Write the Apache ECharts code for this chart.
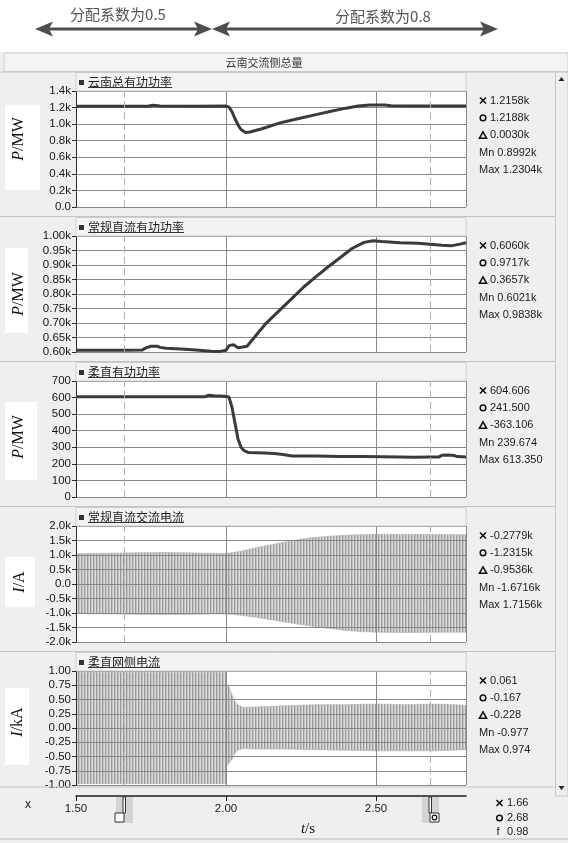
<!DOCTYPE html>
<html>
<head>
<meta charset="utf-8">
<script src="https://cdn.jsdelivr.net/npm/echarts@6/dist/echarts.min.js"></script>
<style>
  html, body { margin: 0; padding: 0; background: #efefef; }
  #chart { width: 568px; height: 843px; }
</style>
</head>
<body>
<div id="chart"></div>
<script>
// ---- time axis (s) and cursor positions ----
const T_MIN = 1.5, T_MAX = 2.8;
const cursorTimes = [1.66, 2.68];
const cursorReadout = ['1.66', '2.68', '0.98'];

// ---- 云南总有功功率 (MW) ----
const totalPowerT  = [1.50, 1.66, 1.74, 1.755, 1.765, 1.78, 1.90, 2.00, 2.01, 2.02, 2.03, 2.04, 2.05, 2.065, 2.08, 2.12, 2.18, 2.21, 2.25, 2.30, 2.35, 2.40, 2.44, 2.48, 2.53, 2.55, 2.60, 2.68, 2.80];
const totalPowerMW = [1215.8, 1215.8, 1216, 1228, 1226, 1218, 1217, 1218, 1205, 1150, 1065, 990, 935, 899.2, 905, 945, 1015, 1040, 1075, 1115, 1155, 1193, 1218, 1230.4, 1230.4, 1221, 1219, 1218.8, 1219];
const totalReadout = ['1.2158k', '1.2188k', '0.0030k', '0.8992k', '1.2304k'];

// ---- 常规直流有功功率 (MW) ----
const lccPowerT  = [1.50, 1.66, 1.72, 1.735, 1.75, 1.77, 1.78, 1.80, 1.85, 1.90, 1.95, 1.98, 2.00, 2.01, 2.025, 2.04, 2.05, 2.06, 2.07, 2.09, 2.13, 2.18, 2.22, 2.26, 2.30, 2.34, 2.38, 2.42, 2.46, 2.49, 2.52, 2.58, 2.64, 2.68, 2.72, 2.75, 2.78, 2.80];
const lccPowerMW = [606.0, 606.0, 606.5, 615, 620, 620, 616, 613, 610, 607, 603, 602.1, 606, 622, 625, 615, 616, 618, 620, 645, 695, 745, 785, 825, 860, 893, 925, 957, 978, 983.8, 981, 977, 975, 971.7, 968, 966, 972, 977];
const lccReadout = ['0.6060k', '0.9717k', '0.3657k', '0.6021k', '0.9838k'];

// ---- 柔直有功功率 (MW) ----
const vscPowerT  = [1.50, 1.66, 1.93, 1.94, 1.96, 1.98, 2.00, 2.01, 2.02, 2.03, 2.04, 2.05, 2.06, 2.075, 2.10, 2.13, 2.16, 2.19, 2.22, 2.30, 2.38, 2.45, 2.52, 2.58, 2.63, 2.68, 2.71, 2.72, 2.74, 2.76, 2.77, 2.80];
const vscPowerMW = [604.606, 604.606, 605, 613.35, 611, 610, 607, 603, 540, 445, 350, 300, 280, 268, 267, 265, 262, 257, 248, 247, 245, 244, 243, 242, 239.674, 241.5, 242, 252, 254, 251, 244, 242];
const vscReadout = ['604.606', '241.500', '-363.106', '239.674', '613.350'];

// ---- 常规直流交流电流 (A): envelope of the AC waveform ----
const lccAcT      = [1.50, 1.60, 1.70, 1.80, 1.90, 2.00, 2.05, 2.10, 2.15, 2.20, 2.25, 2.30, 2.35, 2.40, 2.45, 2.50, 2.60, 2.70, 2.80];
const lccAcUpperA = [1040, 1060, 1075, 1085, 1070, 1050, 1130, 1250, 1350, 1450, 1550, 1610, 1650, 1680, 1700, 1715.6, 1710, 1705, 1700];
const lccAcLowerA = [-1020, -1030, -1045, -1055, -1040, -1030, -1080, -1150, -1230, -1320, -1400, -1470, -1540, -1600, -1640, -1660, -1671.6, -1665, -1660];
const lccAcReadout = ['-0.2779k', '-1.2315k', '-0.9536k', '-1.6716k', '1.7156k'];

// ---- 柔直网侧电流 (kA): envelope of the AC waveform ----
const vscAcT       = [1.50, 1.60, 1.70, 1.80, 1.90, 2.00, 2.002, 2.01, 2.02, 2.03, 2.04, 2.06, 2.10, 2.20, 2.30, 2.40, 2.50, 2.60, 2.70, 2.80];
const vscAcUpperKA = [0.974, 0.974, 0.974, 0.974, 0.974, 0.974, 0.78, 0.72, 0.58, 0.46, 0.40, 0.36, 0.37, 0.39, 0.41, 0.41, 0.42, 0.41, 0.42, 0.40];
const vscAcLowerKA = [-0.977, -0.977, -0.977, -0.977, -0.977, -0.977, -0.66, -0.62, -0.55, -0.44, -0.38, -0.36, -0.37, -0.37, -0.38, -0.39, -0.40, -0.40, -0.40, -0.38];
const vscAcReadout = ['0.061', '-0.167', '-0.228', '-0.977', '0.974'];

// ---- layout ----
const SANS = '"Liberation Sans", Arial, sans-serif';
const CJK = '"Noto Sans CJK SC", sans-serif';
const SERIF = '"Liberation Serif", "DejaVu Serif", serif';
const PLOT_LEFT = 76, PLOT_RIGHT = 466, PLOT_W = PLOT_RIGHT - PLOT_LEFT;
const PANEL_TOP = [91, 236, 381, 526, 671];
const PANEL_H = [116, 116, 116, 116, 114];

const zip = (a, b) => a.map((x, i) => [x, b[i]]);
const kFmt1 = v => (v === 0 ? '0.0' : (v / 1000).toFixed(1) + 'k');
const kFmt2 = v => (v / 1000).toFixed(2) + 'k';

const panels = [
  { title: '云南总有功功率', sym: 'P', unit: '/MW', min: 0, max: 1400, step: 200, fmt: kFmt1,
    line: zip(totalPowerT, totalPowerMW), readout: totalReadout,
    box: [5, 105, 35, 85], lab: [19, 139] },
  { title: '常规直流有功功率', sym: 'P', unit: '/MW', min: 600, max: 1000, step: 50, fmt: kFmt2,
    line: zip(lccPowerT, lccPowerMW), readout: lccReadout,
    box: [5, 248, 23, 85], lab: [19, 294] },
  { title: '柔直有功功率', sym: 'P', unit: '/MW', min: 0, max: 700, step: 100, fmt: v => String(v),
    line: zip(vscPowerT, vscPowerMW), readout: vscReadout,
    box: [5, 402, 32, 78], lab: [19, 437] },
  { title: '常规直流交流电流', sym: 'I', unit: '/A', min: -2000, max: 2000, step: 500, fmt: kFmt1,
    band: { t: lccAcT, hi: lccAcUpperA, lo: lccAcLowerA }, readout: lccAcReadout,
    box: [5, 557, 30, 50], lab: [20, 582] },
  { title: '柔直网侧电流', sym: 'I', unit: '/kA', min: -1, max: 1, step: 0.25, fmt: v => v.toFixed(2),
    band: { t: vscAcT, hi: vscAcUpperKA, lo: vscAcLowerKA }, readout: vscAcReadout,
    box: [5, 688, 24, 77], lab: [18, 722] }
];

// vertical hatch used to fill the oscillating-current bands
const hatch = document.createElement('canvas');
hatch.width = 3; hatch.height = 4;
(function () {
  const c = hatch.getContext('2d');
  c.fillStyle = '#dcdcdc'; c.fillRect(0, 0, 3, 4);
  c.fillStyle = '#9a9a9a'; c.fillRect(0, 0, 1, 4);
  c.fillStyle = '#c4c4c4'; c.fillRect(1, 0, 1, 4);
})();

const grids = [], xAxes = [], yAxes = [], series = [];
panels.forEach((p, i) => {
  const over = p.band ? 4 : 0;
  grids.push({ left: PLOT_LEFT, width: PLOT_W, top: PANEL_TOP[i], height: PANEL_H[i],
    show: true, backgroundColor: '#ffffff', borderWidth: 0 });
  xAxes.push({ gridIndex: i, type: 'value', min: T_MIN, max: T_MAX, interval: 0.5, z: over,
    axisLine: { show: false }, axisTick: { show: false }, axisLabel: { show: false },
    splitLine: { show: true, lineStyle: { color: '#888888', width: 1 } } });
  yAxes.push({ gridIndex: i, type: 'value', min: p.min, max: p.max, interval: p.step, z: over,
    axisLine: { show: true, lineStyle: { color: '#2a2a2a', width: 1 } },
    axisTick: { show: true, length: 4, lineStyle: { color: '#2a2a2a' } },
    axisLabel: { formatter: p.fmt, fontFamily: SANS, fontSize: 11.5, color: '#151515', margin: 5 },
    splitLine: { show: true, lineStyle: { color: '#888888', width: 1 } } });

  // cursor lines
  series.push({ type: 'line', xAxisIndex: i, yAxisIndex: i, data: [], z: 1, silent: true,
    markLine: { silent: true, symbol: 'none', animation: false, label: { show: false },
      lineStyle: { color: '#b0b0b0', type: [7, 4], width: 1 },
      data: cursorTimes.map(t => ({ xAxis: t })) } });

  if (p.line) {
    series.push({ type: 'line', xAxisIndex: i, yAxisIndex: i, data: p.line, symbol: 'none',
      lineStyle: { color: '#3a3a3a', width: 3 }, z: 3 });
  } else {
    // upper and lower envelopes each filled towards zero: together they cover the band
    const b = p.band;
    [b.hi, b.lo].forEach(env => {
      series.push({ type: 'line', xAxisIndex: i, yAxisIndex: i, data: zip(b.t, env), symbol: 'none',
        lineStyle: { width: 0.6, color: '#b0b0b0' },
        areaStyle: { color: { image: hatch, repeat: 'repeat' }, opacity: 1, origin: 0 }, z: 2 });
    });
  }
});

// shared time axis at the bottom
grids.push({ left: PLOT_LEFT, width: PLOT_W, top: 786, height: 10, show: false });
xAxes.push({ gridIndex: 5, type: 'value', min: T_MIN, max: T_MAX, interval: 0.5, position: 'bottom',
  axisLine: { show: true, lineStyle: { color: '#1e1e1e', width: 1.5 } },
  axisTick: { show: true, length: 5, lineStyle: { color: '#1e1e1e' }, customValues: [1.5, 2.0, 2.5] },
  axisLabel: { formatter: v => v.toFixed(2), fontFamily: SANS, fontSize: 11.5, color: '#1a1a1a',
    margin: 7, customValues: [1.5, 2.0, 2.5] },
  splitLine: { show: false } });
yAxes.push({ gridIndex: 5, type: 'value', show: false, min: 0, max: 1 });

const chart = echarts.init(document.getElementById('chart'), null, { width: 568, height: 843 });
chart.setOption({
  animation: false,
  backgroundColor: '#efefef',
  grid: grids, xAxis: xAxes, yAxis: yAxes, series: series
});

// ---- decorations ----
const mctx = document.createElement('canvas').getContext('2d');
function measure(s, font) { mctx.font = font; return mctx.measureText(s).width; }
function txt(x, y, s, o) {
  o = o || {};
  return { type: 'text', x: x, y: y, z: 20, rotation: o.rot || 0, silent: true,
    style: { text: s, fontFamily: o.family || SANS, fontSize: o.size || 11, fontStyle: o.style || 'normal',
      fontWeight: o.weight || 'normal', fill: o.fill || '#1a1a1a', align: o.align || 'left',
      verticalAlign: 'middle', rich: o.rich } };
}
function line(x1, y1, x2, y2, stroke, w) {
  return { type: 'line', z: 20, silent: true, shape: { x1, y1, x2, y2 }, style: { stroke: stroke, lineWidth: w || 1 } };
}
function rect(x, y, w, h, fill, stroke) {
  return { type: 'rect', z: 19, silent: true, shape: { x, y, width: w, height: h },
    style: { fill: fill, stroke: stroke || null, lineWidth: 1 } };
}

const g = [];
// heading with the two distribution-factor spans
g.push(rect(0, 0, 568, 52, '#ffffff'));
const AR = '#4e4e4e';
g.push(line(48, 29, 200, 29, AR, 3));
g.push(line(224, 29, 486, 29, AR, 3));
const head = (pts) => ({ type: 'polygon', z: 21, silent: true, shape: { points: pts }, style: { fill: AR } });
g.push(head([[35, 29], [53, 21.5], [49, 29], [53, 36.5]]));
g.push(head([[212, 29], [194, 21.5], [198, 29], [194, 36.5]]));
g.push(head([[212, 29], [230, 21.5], [226, 29], [230, 36.5]]));
g.push(head([[498, 29], [480, 21.5], [484, 29], [480, 36.5]]));
g.push(txt(118, 14, '分配系数为0.5', { family: CJK, size: 15, fill: '#555', align: 'center' }));
g.push(txt(383, 16, '分配系数为0.8', { family: CJK, size: 15, fill: '#555', align: 'center' }));

// group title bar
g.push(rect(4, 53, 564, 18.5, '#f4f4f4', '#cdcdcd'));
g.push(txt(264, 62.5, '云南交流侧总量', { family: CJK, size: 11, fill: '#333', align: 'center' }));

// scrollbar
g.push(rect(555.5, 72, 12.5, 724, '#efefef', '#c6c6c6'));
g.push({ type: 'polygon', z: 21, silent: true, shape: { points: [[558.5, 81], [564.5, 81], [561.5, 77]] }, style: { fill: '#222' } });
g.push({ type: 'polygon', z: 21, silent: true, shape: { points: [[558.5, 786], [564.5, 786], [561.5, 790]] }, style: { fill: '#222' } });

// panel separators
[72, 216.5, 361.5, 506.5, 651.5, 787].forEach(y => g.push(line(0, y, 555, y, '#c4c4c4', 1)));

panels.forEach((p, i) => {
  const top = PANEL_TOP[i];
  // legend strip
  g.push(rect(PLOT_LEFT, top - 18.5, PLOT_W, 18.5, '#f3f3f3', '#cdcdcd'));
  g.push(rect(79, top - 11, 5, 5, '#333'));
  const tf = '12px ' + CJK;
  const w = measure(p.title, tf);
  g.push(txt(88, top - 8.5, p.title, { family: CJK, size: 12, fill: '#1e1e1e' }));
  g.push(line(88, top - 3.5, 88 + w, top - 3.5, '#333', 1));

  // y-axis quantity label
  g.push(rect(p.box[0], p.box[1], p.box[2], p.box[3], '#ffffff'));
  g.push(txt(p.lab[0], p.lab[1], '{i|' + p.sym + '}' + p.unit, {
    family: SERIF, size: 16, fill: '#111', align: 'center', rot: Math.PI / 2,
    rich: { i: { fontFamily: SERIF, fontSize: 16, fontStyle: 'italic', fill: '#111' } } }));

  // cursor readouts
  const y0 = top + 9.5, dy = 17.4, sx = 483, tx = 490;
  let y = y0;
  g.push(line(sx - 3, y - 3, sx + 3, y + 3, '#111', 1.6));
  g.push(line(sx + 3, y - 3, sx - 3, y + 3, '#111', 1.6));
  g.push(txt(tx, y, p.readout[0]));
  y += dy;
  g.push({ type: 'circle', z: 20, silent: true, shape: { cx: sx, cy: y, r: 2.8 }, style: { fill: null, stroke: '#111', lineWidth: 1.5 } });
  g.push(txt(tx, y, p.readout[1]));
  y += dy;
  g.push({ type: 'polygon', z: 20, silent: true, shape: { points: [[sx, y - 3.5], [sx - 3.6, y + 3], [sx + 3.6, y + 3]] }, style: { fill: null, stroke: '#111', lineWidth: 1.5 } });
  g.push(txt(tx, y, p.readout[2]));
  y += dy;
  g.push(txt(479, y, 'Mn ' + p.readout[3]));
  y += dy;
  g.push(txt(479, y, 'Max ' + p.readout[4]));
});

// bottom time-axis area
g.push(txt(25, 805, 'x', { size: 12 }));
g.push(txt(308, 829, '{i|t}/s', { family: SERIF, size: 15, fill: '#111', align: 'center',
  rich: { i: { fontFamily: SERIF, fontSize: 15, fontStyle: 'italic', fill: '#111' } } }));
g.push(line(0, 839, 568, 839, '#b8b8b8', 1));

cursorTimes.forEach((t, k) => {
  const cx = chart.convertToPixel({ xAxisIndex: 5 }, t);
  g.push(rect(cx - 8, 797, 17, 26, '#d4d4d4'));
  g.push(rect(cx - 1, 797, 2.5, 16, '#ffffff', '#333'));
  const bx = k === 0 ? cx - 9 : cx;
  g.push({ type: 'rect', z: 21, silent: true, shape: { x: bx, y: 813, width: 9, height: 9 }, style: { fill: '#fff', stroke: '#333', lineWidth: 1 } });
  if (k === 0) {
    g.push(line(bx + 2, 815, bx + 7, 820, '#111', 1.2));
    g.push(line(bx + 7, 815, bx + 2, 820, '#111', 1.2));
  } else {
    g.push({ type: 'circle', z: 22, silent: true, shape: { cx: bx + 4.5, cy: 817.5, r: 2.3 }, style: { fill: null, stroke: '#111', lineWidth: 1.2 } });
  }
});

// cursor positions and frequency readout
g.push(line(496.5, 800, 502.5, 806, '#111', 1.6));
g.push(line(502.5, 800, 496.5, 806, '#111', 1.6));
g.push(txt(507, 803, cursorReadout[0]));
g.push({ type: 'circle', z: 20, silent: true, shape: { cx: 499.5, cy: 818, r: 2.8 }, style: { fill: null, stroke: '#111', lineWidth: 1.5 } });
g.push(txt(507, 818, cursorReadout[1]));
g.push(txt(498, 832, 'f', { align: 'center' }));
g.push(txt(507, 832, cursorReadout[2]));

chart.setOption({ graphic: { elements: g } });
</script>
</body>
</html>
